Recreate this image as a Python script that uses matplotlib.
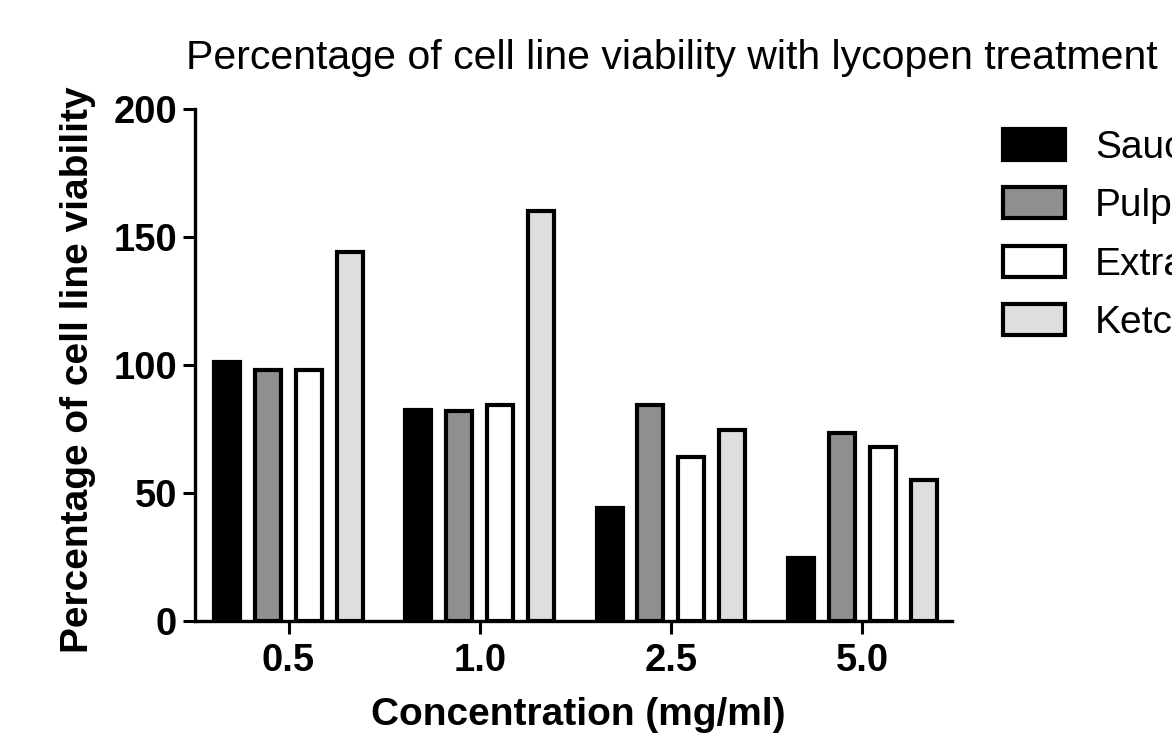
import matplotlib
matplotlib.use("Agg")
import matplotlib.pyplot as plt
import numpy as np

plt.rcParams['font.family'] = ['Liberation Sans', 'DejaVu Sans']

concentrations = ["0.5", "1.0", "2.5", "5.0"]
series_names = ["Sauce", "Pulp", "Extract", "Ketchup"]
sauce = [101, 82.5, 44, 24.5]
pulp = [98, 82, 84.5, 73.5]
extract = [98, 84.5, 64, 68]
ketchup = [144, 160, 74.5, 55]
colors = ["#000000", "#909090", "#ffffff", "#dedede"]

values = [sauce, pulp, extract, ketchup]

fig = plt.figure(figsize=(11.72, 7.47), dpi=100)
ax = fig.add_axes([195/1172, 1-621/747, (952-195)/1172, (621-109)/747])

x = np.arange(len(concentrations))
pitch = 0.214
width = 0.136
lw = 3.0
handles = []
for i, (vals, col, name) in enumerate(zip(values, colors, series_names)):
    b = ax.bar(x + (i - 1.5) * pitch, vals, width=width, color=col,
               edgecolor="black", linewidth=lw, label=name, zorder=2)
    handles.append(b)

ax.set_xlim(-0.489, 3.47)
ax.set_ylim(0, 200)
ax.set_yticks([0, 50, 100, 150, 200])
ax.set_xticks(x)
ax.set_xticklabels(concentrations)
for s in ["top", "right"]:
    ax.spines[s].set_visible(False)
for s in ["left", "bottom"]:
    ax.spines[s].set_linewidth(2.4)
    ax.spines[s].set_zorder(3)
ax.tick_params(axis="both", length=9, width=2.2, labelsize=27.5)
ax.tick_params(axis="y", pad=4)
ax.tick_params(axis="x", pad=7)
for lab in ax.get_xticklabels() + ax.get_yticklabels():
    lab.set_fontweight("bold")

fig.text(186/1172, 1-58/747, "Percentage of cell line viability with lycopen treatment",
         ha="left", va="center", fontsize=29.5)
fig.text(78/1172, 1-370/747, "Percentage of cell line viability", rotation=90,
         ha="center", va="center", fontsize=28, fontweight="bold")
fig.text(578/1172, 1-715/747, "Concentration (mg/ml)",
         ha="center", va="center", fontsize=28, fontweight="bold")

leg = fig.legend(handles=handles, labels=series_names, loc="upper left",
                 bbox_to_anchor=(1003/1172, 1-129/747), frameon=False,
                 fontsize=28, handlelength=1.6, handleheight=0.85,
                 handletextpad=0.77, labelspacing=0.55, borderpad=0,
                 borderaxespad=0)

fig.savefig("out.png", dpi=100)
